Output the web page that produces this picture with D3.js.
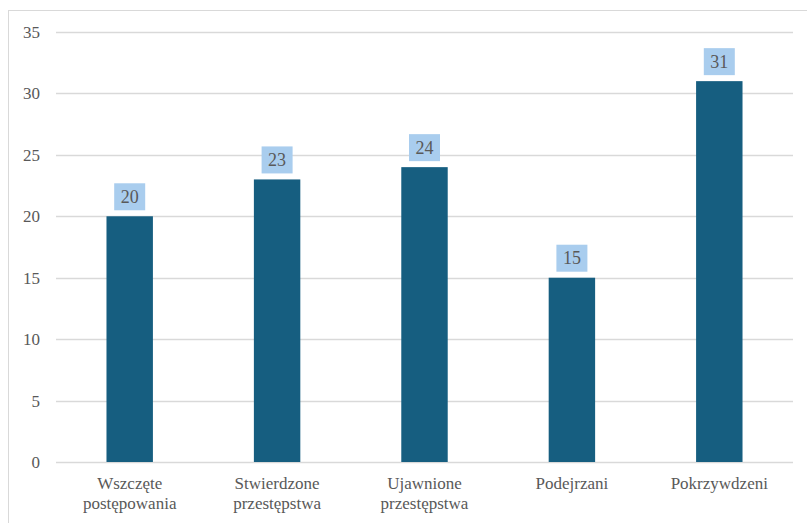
<!DOCTYPE html>
<html>
<head>
<meta charset="utf-8">
<script src="https://cdn.jsdelivr.net/npm/d3@7"></script>
<style>
  body { margin: 0; background: #fff; }
  svg text { font-family: 'Times New Roman', Times, 'Liberation Serif', serif; fill: #595959; }
</style>
</head>
<body>
<svg id="chart" width="807" height="523"></svg>
<script>
var categories = [['Wszczęte', 'postępowania'], ['Stwierdzone', 'przestępstwa'], ['Ujawnione', 'przestępstwa'], ['Podejrzani'], ['Pokrzywdzeni']]
var values = [20, 23, 24, 15, 31]
var yTicks = [0, 5, 10, 15, 20, 25, 30, 35]

var svg = d3.select('#chart')

// outer frame of the chart area
svg.append('rect')
  .attr('x', 8.5).attr('y', 10.5)
  .attr('width', 820).attr('height', 540)
  .attr('fill', 'none')
  .attr('stroke', '#d9d9d9')

var plotLeft = 56, plotRight = 793, plotTop = 32, plotBottom = 462

var x = d3.scaleBand()
  .domain(d3.range(values.length))
  .range([plotLeft, plotRight])
  .paddingInner(0.685)
  .paddingOuter(0.3425)

var y = d3.scaleLinear()
  .domain([0, 35])
  .range([plotBottom, plotTop])

// gridlines
svg.append('g')
  .selectAll('line')
  .data(yTicks)
  .enter().append('line')
  .attr('x1', plotLeft).attr('x2', plotRight)
  .attr('y1', function (d) { return Math.round(y(d)) + 0.5 })
  .attr('y2', function (d) { return Math.round(y(d)) + 0.5 })
  .attr('stroke', '#d9d9d9')
  .attr('stroke-width', 1.5)

// y labels
svg.append('g')
  .selectAll('text')
  .data(yTicks)
  .enter().append('text')
  .attr('x', 40)
  .attr('y', function (d) { return y(d) + 6 })
  .attr('text-anchor', 'end')
  .style('font-size', '17px')
  .text(function (d) { return d })

// bars
svg.append('g')
  .selectAll('rect')
  .data(values)
  .enter().append('rect')
  .attr('x', function (d, i) { return x(i) })
  .attr('width', x.bandwidth())
  .attr('y', function (d) { return y(d) })
  .attr('height', function (d) { return plotBottom - y(d) })
  .attr('fill', '#165e80')

// data labels with boxes
var labels = svg.append('g')
  .selectAll('g')
  .data(values)
  .enter().append('g')
  .attr('transform', function (d, i) {
    return 'translate(' + (x(i) + x.bandwidth() / 2) + ',' + (y(d) - 6) + ')'
  })

labels.append('rect')
  .attr('x', -15.5).attr('y', -27)
  .attr('width', 31).attr('height', 27)
  .attr('fill', '#a9cdee')

labels.append('text')
  .attr('y', -7.5)
  .attr('text-anchor', 'middle')
  .style('font-size', '18px')
  .text(function (d) { return d })

// category labels
var cats = svg.append('g')
  .selectAll('text')
  .data(categories)
  .enter().append('text')
  .attr('x', function (d, i) { return x(i) + x.bandwidth() / 2 })
  .attr('y', 489)
  .attr('text-anchor', 'middle')
  .style('font-size', '17px')

cats.selectAll('tspan')
  .data(function (d) { return d })
  .enter().append('tspan')
  .attr('x', function () { return d3.select(this.parentNode).attr('x') })
  .attr('dy', function (d, i) { return i === 0 ? 0 : 20 })
  .text(function (d) { return d })
</script>
</body>
</html>
